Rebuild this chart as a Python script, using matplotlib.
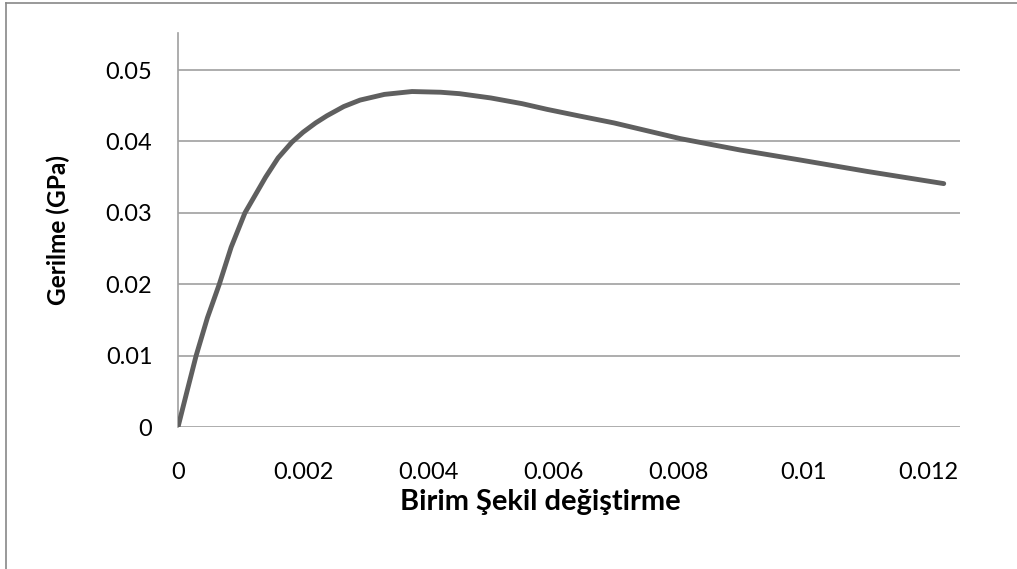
import matplotlib
matplotlib.use("Agg")
import matplotlib.pyplot as plt
from matplotlib.lines import Line2D

plt.rcParams['font.family'] = ['Lato', 'DejaVu Sans']

strain = [0, 0.00015, 0.00029, 0.00047, 0.00066, 0.00085, 0.00107, 0.0014,
          0.0016, 0.00182, 0.0020, 0.0022, 0.00238, 0.00265, 0.00291,
          0.0033, 0.00374, 0.0042, 0.0045, 0.0050, 0.0055, 0.0059, 0.0064,
          0.00697, 0.0075, 0.00803, 0.00899, 0.00995, 0.01102, 0.01224]
stress = [0, 0.0052, 0.0100, 0.0153, 0.0200, 0.0252, 0.0300, 0.0350,
          0.0377, 0.0399, 0.0413, 0.0426, 0.0436, 0.0449, 0.0458,
          0.0466, 0.0470, 0.0469, 0.0467, 0.0461, 0.0453, 0.0445, 0.0436,
          0.0426, 0.0415, 0.0404, 0.0388, 0.0374, 0.0358, 0.0341]
x_ticks = [0, 0.002, 0.004, 0.006, 0.008, 0.01, 0.012]
x_tick_labels = ['0', '0.002', '0.004', '0.006', '0.008', '0.01', '0.012']
y_ticks = [0, 0.01, 0.02, 0.03, 0.04, 0.05]
y_tick_labels = ['0', '0.01', '0.02', '0.03', '0.04', '0.05']
x_label = 'Birim Şekil değiştirme'
y_label = 'Gerilme (GPa)'

fig = plt.figure(figsize=(10.17, 5.69), dpi=100)
renderer = fig.canvas.get_renderer()


def fit_size(text, target_px, weight='normal'):
    t = fig.text(0, 0, text, fontsize=10, fontweight=weight)
    w = t.get_window_extent(renderer=renderer).width
    t.remove()
    return 10 * target_px / w


tick_fs = fit_size('0.002', 60)
xlab_fs = fit_size(x_label, 282, 'bold')
ylab_fs = fit_size(y_label, 150, 'bold')

ax = fig.add_axes([178/1017, 1-427/569, (960-178)/1017, (427-33)/569])

ax.plot(strain, stress, color='#5f5f5f', lw=3.5, solid_capstyle='round',
        solid_joinstyle='round', zorder=3)

ax.set_xlim(0, 0.0125)
ax.set_ylim(0, 0.0552)
ax.set_xticks(x_ticks)
ax.set_xticklabels(x_tick_labels)
ax.set_yticks(y_ticks)
ax.set_yticklabels(y_tick_labels)
ax.tick_params(axis='both', length=0, labelsize=tick_fs, colors='black')
ax.tick_params(axis='x', pad=25)
ax.tick_params(axis='y', pad=18.5)
ax.yaxis.grid(True, color='#a0a0a0', lw=1.2)
ax.set_axisbelow(True)
for s in ['top', 'right', 'bottom']:
    ax.spines[s].set_visible(False)
ax.spines['left'].set_color('#a0a0a0')
ax.spines['left'].set_linewidth(1.2)

fig.text(540/1017, 1-502/569, x_label, ha='center', va='center',
         fontsize=xlab_fs, fontweight='bold')
fig.text(58/1017, 1-230/569, y_label, ha='center', va='center',
         fontsize=ylab_fs, fontweight='bold', rotation=90)

fig.add_artist(Line2D([6/1017, 6/1017], [0, 1-3/569], transform=fig.transFigure,
                      color='#888888', lw=1.2))
fig.add_artist(Line2D([6/1017, 1], [1-3/569, 1-3/569], transform=fig.transFigure,
                      color='#888888', lw=1.2))

fig.savefig('out.png', dpi=100)
